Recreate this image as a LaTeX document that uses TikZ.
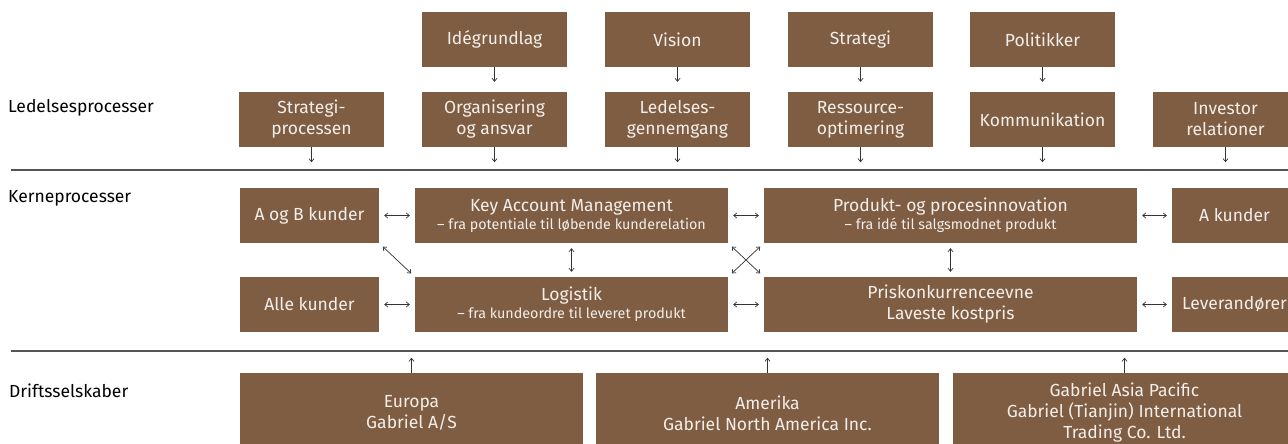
\documentclass[tikz,border=0pt]{standalone}
\usepackage{fontspec}
\setmainfont{Fira Sans}
\usetikzlibrary{arrows.meta}
\definecolor{boxbrown}{HTML}{7F5D43}
\definecolor{boxtext}{HTML}{F3EEE9}
\definecolor{arrowc}{HTML}{333333}
\definecolor{rulec}{HTML}{555555}
\newcommand{\mainsize}{\fontsize{17.5}{21}\selectfont}
\newcommand{\subsize}{\fontsize{14.3}{18}\selectfont}
\begin{document}
\begin{tikzpicture}[x=1pt,y=-1pt,
  box/.style={fill=boxbrown, text=boxtext, draw=none, inner sep=0pt, align=center, font=\mainsize},
  lbl/.style={anchor=base west, font=\mainsize, text=black, inner sep=0pt},
  conn/.style={draw=arrowc, line width=0.7pt, -{Straight Barb[length=3pt,width=5pt]}},
  dconn/.style={draw=arrowc, line width=0.7pt, {Straight Barb[length=3pt,width=5pt]}-{Straight Barb[length=3pt,width=5pt]}, shorten <=5pt, shorten >=5pt},
  rulel/.style={draw=rulec, line width=1.2pt}]
\useasboundingbox (0,0) rectangle (1288,444);

% labels
\node[lbl] (l1) at (8,112) {Ledelsesprocesser};
\node[lbl] (l2) at (8,202) {Kerneprocesser};
\node[lbl] (l3) at (9,397) {Driftsselskaber};

% rules
\coordinate (r1a) at (11,170); \coordinate (r1b) at (1288,170);
\coordinate (r2a) at (11,351); \coordinate (r2b) at (1288,351);
\draw[rulel] (r1a) -- (r1b);
\draw[rulel] (r2a) -- (r2b);

% top row
\begin{scope}[every node/.style={box, minimum width=145pt, minimum height=55pt}]
\node (ide) at (494.5,39.5) {Idégrundlag};
\node (vis) at (677.5,39.5) {Vision};
\node (str) at (860.5,39.5) {Strategi};
\node (pol) at (1042.5,39.5) {Politikker};
\node (sp)  at (311.5,119.5) {Strategi-\\processen};
\node (org) at (494.5,119.5) {Organisering\\og ansvar};
\node (led) at (677.5,119.5) {Ledelses-\\gennemgang};
\node (res) at (860.5,119.5) {Ressource-\\optimering};
\node (kom) at (1042.5,119.5) {Kommunikation};
\node (inv) at (1225.5,119.5) {Investor\\relationer};
\end{scope}

\draw[conn, shorten >=10pt] (ide) -- (org);
\draw[conn, shorten >=10pt] (vis) -- (led);
\draw[conn, shorten >=10pt] (str) -- (res);
\draw[conn, shorten >=10pt] (pol) -- (kom);
\foreach \n in {sp,org,led,res,kom,inv} \draw[conn] (\n.south) -- ++(0,15);

% core processes
\begin{scope}[every node/.style={box, minimum height=55pt}]
\node[minimum width=139pt] (aob) at (309.5,215.5) {A og B kunder};
\node[minimum width=139pt] (alle) at (309.5,304.5) {Alle kunder};
\node[minimum width=313pt] (kam) at (571.5,215.5) {Key Account Management\\[-3pt]{\subsize – fra potentiale til løbende kunderelation}};
\node[minimum width=313pt] (log) at (571.5,304.5) {Logistik\\[-3pt]{\subsize – fra kundeordre til leveret produkt}};
\node[minimum width=373pt] (pro) at (950.5,215.5) {Produkt- og procesinnovation\\[-3pt]{\subsize – fra idé til salgsmodnet produkt}};
\node[minimum width=373pt] (pris) at (950.5,304.5) {Priskonkurrenceevne\\Laveste kostpris};
\node[minimum width=125pt] (ak) at (1234.5,215.5) {A kunder};
\node[minimum width=125pt] (lev) at (1234.5,304.5) {Leverandører};
\end{scope}

\draw[dconn] (aob) -- (kam);
\draw[dconn] (kam) -- (pro);
\draw[dconn] (pro) -- (ak);
\draw[dconn] (alle) -- (log);
\draw[dconn] (log) -- (pris);
\draw[dconn] (pris) -- (lev);
\draw[dconn] (kam) -- (log);
\draw[dconn] (pro) -- (pris);
\draw[dconn] (aob.south east) -- (log.north west);
\draw[dconn] (kam.south east) -- (pris.north west);
\draw[dconn] (log.north east) -- (pro.south west);

% operating companies
\begin{scope}[every node/.style={box, minimum width=343pt, minimum height=80pt}]
\node (eur) at (411.5,413) {Europa\\Gabriel A/S};
\node (ame) at (767.5,413) {Amerika\\Gabriel North America Inc.};
\node (asia) at (1124.5,413) {Gabriel Asia Pacific\\Gabriel (Tianjin) International\\Trading Co. Ltd.};
\end{scope}
\foreach \n in {eur,ame,asia} \draw[conn] (\n.north) -- ++(0,-15);
\end{tikzpicture}
\end{document}
